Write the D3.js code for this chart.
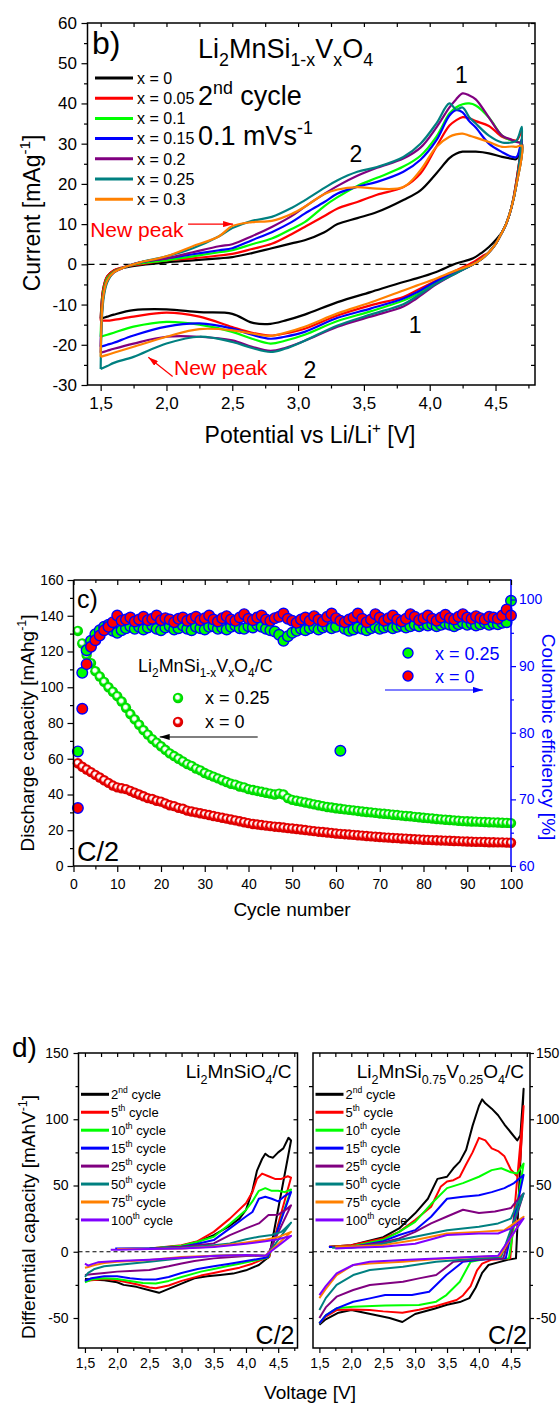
<!DOCTYPE html>
<html><head><meta charset="utf-8">
<script src="https://cdn.jsdelivr.net/npm/d3@7"></script>
<style>
html,body{margin:0;padding:0;background:#fff;}
svg{display:block;}
</style></head><body>
<script>
// ================= data: (b) cyclic voltammetry, 2nd cycle =================
const cvLabels = ["x = 0", "x = 0.05", "x = 0.1", "x = 0.15", "x = 0.2", "x = 0.25", "x = 0.3"];
const cvColors = ["#000000", "#ff0000", "#00ff00", "#0000ff", "#800080", "#008080", "#ff8000"];
const cvTicksX = [1.5, 2.0, 2.5, 3.0, 3.5, 4.0, 4.5];
const cvTicksY = [-30, -20, -10, 0, 10, 20, 30, 40, 50, 60];
// oxidation sweep voltages and currents [mA/g]
const cvAnodicV = [1.5,1.52,1.55,1.6,1.7,1.8,2.0,2.2,2.4,2.5,2.65,2.8,2.95,3.05,3.2,3.3,3.45,3.6,3.8,3.93,4.05,4.15,4.2,4.25,4.3,4.35,4.45,4.55,4.62,4.66,4.7];
const cvAnodicX0   = [-13.5,-6,-3,-1.5,-0.7,-0.2,0.5,1.0,1.5,1.8,2.8,4,5.2,6,8,10,11.5,13,16,18.4,22.6,26.4,27.5,28,28,28,27.6,26.7,26.3,26.2,31];
const cvAnodicX005 = [-14,-6,-3,-1.5,-0.5,0,1,1.5,2.2,2.6,3.8,5.1,7.5,9.3,12,13.9,15.5,17.3,19.2,22.6,29.2,34.5,35.8,36.6,36.3,35.6,34.4,31.7,31,30.8,33];
const cvAnodicX01  = [-18,-7,-3.5,-1.8,-0.5,0.2,1,2,3,3.5,5,6.4,8.8,10.5,14.5,16.7,19.5,21.5,24.3,27,31.7,37.5,39,39.8,40,39.5,36.5,32,30.8,30.5,30];
const cvAnodicX015 = [-20.5,-8,-4,-2,-0.5,0.5,1.5,2.5,3.5,4,6,8,10.5,12.6,15.5,17.6,19.3,20.5,23,26,30.8,37,38.3,37.8,35.6,34,30,27.9,26.8,26.7,31];
const cvAnodicX02  = [-22,-8,-4,-2,-0.5,0.5,1.5,3,4.5,5,7,9.3,12,14.3,17.5,19.5,22,24,26.3,29,34,39,41,42.5,42,41,36.5,32,31,30.4,30];
const cvAnodicX025 = [-26,-9,-4.5,-2,-0.5,0.5,2,4,7,9,10.8,11.8,14,15.9,19,20.9,23,24.2,26.7,30,35,40,38.5,39,36.6,35,32,30.3,30.3,30.8,34.2];
const cvAnodicX03  = [-23,-8,-4,-2,-0.5,0.5,2,4.5,7,9.5,10.5,10.8,12.5,14.3,17.5,18.6,19.2,18.8,19.2,23.4,29.2,31.7,32.3,32.5,32,31.5,30.4,29.2,29.3,29.2,29.5];
// reduction sweep voltages and currents [mA/g]
const cvCathodicV = [4.66,4.62,4.58,4.55,4.5,4.45,4.4,4.33,4.2,4.05,3.9,3.8,3.55,3.3,3.05,2.9,2.79,2.65,2.5,2.25,2.0,1.75,1.6,1.55,1.5];
const cvCathodicX0   = [21,14,10,8,6,4.3,3,1.5,0.2,-1.9,-3.5,-4.4,-6.9,-9.4,-12.5,-14,-14.8,-14.5,-12.3,-11.9,-11.2,-11.4,-12.5,-13,-13.5];
const cvCathodicX005 = [21,14,10,8,5,3,2,0.5,-1.5,-4,-6.5,-8.1,-10.2,-12.7,-16,-17.2,-17.7,-17,-15.6,-13,-12,-13,-13.8,-14,-14];
const cvCathodicX01  = [20,14,10,8,5,3,1.5,0,-2,-4.5,-7.5,-9,-11.7,-14.1,-17.5,-19,-19.7,-18.5,-16.8,-15,-14.3,-15.5,-17,-17.5,-18];
const cvCathodicX015 = [20,14,10,8,5,3,1.5,0,-2,-4.2,-7,-8.5,-11,-13.3,-16.8,-18,-18.5,-17.5,-16,-14.7,-15.5,-17.7,-19.5,-20,-20.5];
const cvCathodicX02  = [20,14,10,8,5,3,1.5,0,-2.2,-5,-8.5,-10.5,-13,-15.5,-19,-20.8,-21.5,-20.5,-18.9,-18,-18,-19.7,-21,-21.5,-22];
const cvCathodicX025 = [20,14,10,8,5,3,1.5,0,-2.2,-4.8,-8,-9.9,-12.5,-15.2,-19,-21,-21.8,-20.8,-19.3,-18,-19.7,-23,-24.5,-25.3,-26];
const cvCathodicX03  = [20,14,10,8,5,3,1.5,0,-1.5,-3.5,-5.3,-6.5,-9.5,-12.2,-15.5,-17,-17.8,-17.2,-16.4,-16.1,-18,-20.5,-22,-22.5,-23];

// ================= data: (c) cycling at C/2 =================
const cycles = d3.range(1, 101);
const capTicksX = [0,10,20,30,40,50,60,70,80,90,100];
const capTicksY = [0,20,40,60,80,100,120,140,160];
const ceTicks = [60,70,80,90,100];
// discharge capacity [mAh/g]
const capX025 = [131.5,124.5,118,113.5,109,106,103,100,97.5,95,
  92,88.5,85,82,79,76,73.5,71,69,67,
  65,63,61.5,60,58.5,57,56,54.5,53.5,52,
  51,50,49,48,47,46,45.5,44.5,44,43,
  42.5,42,41.5,41,40.5,40,40.5,40,38,37,
  36.5,36,35.5,35,34.5,34,33.5,33,32.7,32.3,
  32,31.7,31.4,31.1,30.8,30.5,30.2,30,29.7,29.4,
  29.2,29,28.7,28.5,28.2,28,27.8,27.5,27.3,27,
  26.8,26.6,26.3,26.1,25.9,25.7,25.5,25.3,25.1,25,
  24.9,24.8,24.7,24.6,24.5,24.4,24.3,24.2,24.1,24];
const capX0 = [57.5,55.5,54,52.5,51,49.5,48,46.5,45,44,
  43.5,43,42,41,40,39,38,37.5,36.5,36,
  35,34,33.5,32.5,32,31,30.5,30,29.5,29,
  28.5,28,27.5,27,26.5,26,25.5,25,24.5,24,
  23.5,23.2,22.9,22.6,22.3,22,21.8,21.5,21.2,21,
  20.7,20.4,20.1,19.8,19.5,19.2,19,18.7,18.5,18.2,
  18,17.8,17.6,17.4,17.2,17,16.8,16.6,16.4,16.2,
  16,15.9,15.7,15.6,15.4,15.3,15.1,15,14.9,14.7,
  14.6,14.5,14.4,14.3,14.2,14.1,14,13.9,13.8,13.7,
  13.6,13.5,13.5,13.4,13.3,13.3,13.2,13.2,13.1,13];
// coulombic efficiency [%]
const ceX025 = [77.2,89.0,92.4,93.8,94.8,95.4,95.9,96.2,95.3,95.0,
  95.4,95.7,96.0,95.6,95.9,95.5,95.8,96.1,95.6,95.4,
  95.8,96.0,95.5,95.7,96.1,95.6,95.4,95.9,95.7,95.5,
  95.9,96.0,95.6,95.8,95.5,95.9,96.1,95.7,95.6,96.0,
  95.8,96.2,95.9,95.6,95.4,95.2,94.7,93.8,94.5,95.0,
  95.3,95.6,95.4,95.7,95.9,95.5,95.8,96.0,95.7,95.9,
  77.3,95.6,95.3,95.5,95.8,95.6,95.4,95.7,95.9,95.6,
  95.8,96.0,95.7,95.9,96.1,95.8,96.0,96.2,96.0,96.3,
  96.1,96.3,96.0,96.2,96.4,96.2,96.0,96.3,96.5,96.2,
  96.4,96.1,96.3,96.5,96.2,96.4,96.3,96.5,96.6,99.8];
const ceX0 = [68.7,83.6,90.3,92.9,93.9,94.6,95.4,95.9,96.6,97.6,
  96.8,97.0,97.3,96.7,97.0,97.4,96.9,97.1,97.6,96.9,
  97.2,97.0,96.6,97.1,97.3,96.8,97.1,97.4,96.9,97.2,
  97.6,97.0,96.7,97.2,97.5,97.0,96.8,97.3,97.8,97.1,
  96.9,97.3,97.6,97.0,96.8,97.2,97.4,97.9,97.1,96.8,
  96.5,97.0,97.3,96.8,97.5,97.0,96.7,97.4,97.9,97.2,
  96.8,96.6,97.0,97.3,97.9,97.1,96.6,97.0,97.8,97.3,
  96.8,97.2,97.6,97.0,96.7,97.1,97.8,97.4,96.9,97.2,
  97.6,97.1,96.8,97.3,97.7,97.2,97.0,97.4,97.8,97.3,
  97.1,97.5,97.2,97.0,97.4,97.3,97.1,97.6,98.5,97.6];

// ================= data: (d) differential capacity, [V, mAh/V] =================
const dqTicksX = [1.5, 2.0, 2.5, 3.0, 3.5, 4.0, 4.5];
const dqTicksY = [-50, 0, 50, 100, 150];
const dqCycleLabels = [["2","nd"],["5","th"],["10","th"],["15","th"],["25","th"],["50","th"],["75","th"],["100","th"]];
const dqColors = ["#000000","#ff0000","#00ff00","#0000ff","#800080","#008080","#ff8000","#8000ff"];
// Li2MnSiO4/C
const lmsC2 = [[2.0,2],[2.5,2],[3.0,4.5],[3.25,7.5],[3.5,12.6],[3.75,19.6],[3.9,25],[4.0,31.5],[4.1,46],[4.17,61],[4.25,70],[4.3,74],[4.35,72],[4.42,71],[4.5,75],[4.58,78],[4.66,86],[4.7,84],
  [4.36,-4],[4.3,-6],[4.2,-10],[4.0,-14],[3.8,-16.5],[3.6,-17.5],[3.4,-18.5],[3.2,-20],[3.0,-24],[2.8,-28],[2.65,-31],[2.5,-29],[2.3,-26.5],[2.1,-25],[2.0,-23],[1.8,-21.5],[1.6,-21],[1.5,-20.5]];
const lmsC5 = [[2.0,2],[2.5,2.5],[3.0,5],[3.25,8],[3.5,15],[3.75,25],[4.0,36.6],[4.1,45],[4.17,55],[4.25,59],[4.35,57],[4.45,55],[4.55,55],[4.65,57],[4.7,56],
  [4.36,-4],[4.3,-5],[4.1,-9],[3.9,-12],[3.7,-14],[3.5,-16],[3.3,-18],[3.0,-22],[2.8,-25.5],[2.6,-27.5],[2.5,-27],[2.3,-24.5],[2.0,-21.5],[1.8,-20.5],[1.6,-21.5],[1.5,-22]];
const lmsC10 = [[2.0,2],[2.5,2.5],[3.0,4.5],[3.25,7.5],[3.5,11.3],[3.75,21],[4.0,31.5],[4.1,38],[4.2,46],[4.3,48],[4.4,46],[4.5,46],[4.6,45],[4.7,47],
  [4.35,-4],[4.3,-5],[4.1,-7],[3.9,-9],[3.7,-11],[3.5,-13],[3.3,-15],[3.0,-19],[2.8,-22],[2.6,-24],[2.4,-23.5],[2.2,-22],[2.0,-20.5],[1.8,-20],[1.6,-21],[1.5,-23]];
const lmsC15 = [[1.97,2.5],[2.0,2.5],[2.5,2.5],[3.0,3.8],[3.25,6],[3.5,8.8],[3.75,17.6],[4.0,26.6],[4.1,30],[4.2,40],[4.3,41.5],[4.4,40],[4.5,38],[4.6,42],[4.7,45],
  [4.34,-4],[4.3,-4.5],[4.0,-7],[3.75,-9],[3.5,-11],[3.25,-13],[3.0,-16],[2.8,-19],[2.6,-21],[2.4,-21],[2.2,-20],[2.0,-18.5],[1.8,-18.5],[1.6,-20],[1.5,-22]];
const lmsC25 = [[2.0,2],[2.5,2],[3.0,3.8],[3.5,6.3],[3.75,12.6],[4.0,17.6],[4.2,21.4],[4.35,27.7],[4.5,28],[4.6,31],[4.7,35],
  [4.33,-3],[4.0,-3.2],[3.5,-5],[3.2,-7],[3.0,-8.8],[2.8,-11],[2.5,-13.8],[2.2,-14.5],[2.0,-15],[1.8,-16],[1.6,-17],[1.5,-17.6]];
const lmsC50 = [[2.0,2],[2.5,2],[3.0,3],[3.5,5],[3.75,6.3],[4.0,9.4],[4.2,11.3],[4.4,12.6],[4.55,15],[4.7,22],
  [4.32,-3],[4.0,-2.5],[3.5,-3],[3.0,-5],[2.5,-7.5],[2.0,-10],[1.8,-11],[1.65,-13],[1.55,-16],[1.5,-19]];
const lmsC75 = [[2.0,2],[2.5,2],[3.0,2.5],[3.5,4],[4.0,7],[4.3,9],[4.5,11],[4.7,15],
  [4.3,-3],[4.0,-2.5],[3.5,-3],[3.0,-4],[2.5,-6.3],[2.0,-7.5],[1.8,-8.5],[1.65,-10],[1.55,-11.5],[1.5,-12]];
const lmsC100 = [[1.9,1.5],[2.0,1.5],[2.5,2],[3.0,2.5],[3.5,3.5],[4.0,6],[4.3,8],[4.5,9.5],[4.7,12],
  [4.3,-3],[4.0,-2.5],[3.5,-3.3],[3.0,-4.5],[2.5,-6],[2.0,-7],[1.7,-8],[1.6,-9.5],[1.55,-10.5],[1.5,-9]];
// Li2MnSi0.75V0.25O4/C
const lmsvC2 = [[1.65,3.8],[2.0,5],[2.5,11],[2.75,17.6],[3.0,29],[3.2,40],[3.35,55],[3.5,56.6],[3.6,63],[3.7,68],[3.8,77],[3.9,95],[4.0,110],[4.05,115],[4.1,112],[4.2,108],[4.3,103],[4.4,96],[4.5,90],[4.6,84],[4.65,88],[4.7,123],
  [4.58,-5],[4.45,-6],[4.3,-8],[4.15,-10],[4.05,-16],[3.95,-27],[3.85,-35],[3.7,-38],[3.5,-40],[3.3,-43],[3.0,-47],[2.8,-53],[2.6,-50],[2.3,-47],[2.0,-44],[1.8,-46],[1.6,-51],[1.5,-55]];
const lmsvC5 = [[1.65,3.8],[2.0,5],[2.5,10],[2.75,15],[3.0,24],[3.25,34],[3.4,49],[3.5,53],[3.6,54],[3.7,56.6],[3.8,66],[3.9,75],[4.0,86],[4.05,85],[4.1,84],[4.2,78],[4.3,76],[4.4,72],[4.5,62],[4.6,57],[4.65,70],[4.7,110],
  [4.49,-5],[4.2,-6],[4.05,-9],[3.97,-14],[3.87,-26],[3.75,-33],[3.65,-36.4],[3.33,-41],[3.06,-43.7],[2.8,-46],[2.5,-45],[2.29,-44],[2.0,-43.5],[1.77,-44],[1.6,-49],[1.5,-54]];
const lmsvC10 = [[1.65,3.5],[2.0,4],[2.5,9],[2.75,15],[3.0,22.6],[3.25,36],[3.5,48],[3.75,51.8],[4.0,56.6],[4.2,61.6],[4.35,63],[4.5,60],[4.6,59],[4.7,66.6],
  [4.47,-5],[4.1,-5.5],[3.87,-7.5],[3.7,-22.6],[3.49,-32.7],[3.33,-37.7],[3.06,-40.2],[2.53,-40.5],[2.03,-41.5],[1.77,-42.7],[1.6,-48],[1.5,-54]];
const lmsvC15 = [[1.65,3.5],[2.0,3.5],[2.5,8],[2.75,12.6],[3.0,16.3],[3.25,26.4],[3.5,40],[3.75,41.5],[4.0,42.7],[4.2,45],[4.4,48],[4.55,51.8],[4.7,58],
  [4.42,-5],[4.0,-6],[3.75,-7.5],[3.49,-17.6],[3.22,-30.2],[2.95,-32.7],[2.53,-32.7],[2.29,-35.2],[2.03,-37.7],[1.77,-42.7],[1.6,-48],[1.5,-54]];
const lmsvC25 = [[1.7,3.5],[2.0,3.5],[2.5,7],[2.75,10],[3.0,15],[3.25,21.4],[3.5,26.6],[3.75,31.7],[4.0,29.2],[4.25,30.4],[4.5,33],[4.6,39],[4.7,44],
  [4.38,-5],[3.9,-6],[3.6,-7.5],[3.33,-17.6],[3.06,-20.1],[2.81,-22.6],[2.29,-25.1],[2.03,-28.9],[1.77,-33.9],[1.6,-42],[1.5,-50]];
const lmsvC50 = [[1.7,3],[2.0,3],[2.5,6],[2.75,8.8],[3.0,11.3],[3.5,16.3],[4.0,18.9],[4.3,21.4],[4.5,25],[4.6,36],[4.7,44],
  [4.35,-3.8],[3.33,-7.5],[2.81,-11.3],[2.29,-13.8],[2.03,-17.6],[1.77,-25],[1.6,-35],[1.5,-44]];
const lmsvC75 = [[1.75,3.8],[2.0,4],[2.5,5],[3.0,8.8],[3.5,13.8],[4.0,15],[4.4,16.3],[4.55,21.4],[4.7,26.4],
  [4.33,-3],[3.33,-5.5],[2.81,-7.5],[2.29,-8.8],[2.03,-10],[1.77,-17.6],[1.6,-28],[1.5,-35]];
const lmsvC100 = [[1.75,2.5],[2.0,3],[2.5,3.8],[3.0,6],[3.5,12.6],[4.0,13.8],[4.3,13.8],[4.5,17.6],[4.7,25.1],
  [4.3,-3],[2.81,-6.3],[2.29,-7.5],[2.03,-10],[1.77,-16.3],[1.6,-26],[1.5,-32.7]];

// ================= drawing =================
const FONT = '"Liberation Sans", Arial, Helvetica, sans-serif';
const svg = d3.select("body").append("svg").attr("width", 560).attr("height", 1405)
  .style("font-family", FONT);
const defs = svg.append("defs");
const comma1 = d => d3.format(".1f")(d).replace(".", ",");
const range = (a, b, s) => d3.range(a, b + s / 2, s);

// text with sub-/superscript parts: "plain" or ["txt","sub"|"sup"]
function rich(parent, x, y, parts, size, attrs = {}) {
  const t = parent.append("text").attr("x", x).attr("y", y).attr("font-size", size);
  Object.entries(attrs).forEach(([k, v]) => t.attr(k, v));
  let shift = 0;
  parts.forEach(p => {
    const str = Array.isArray(p) ? p[0] : p;
    const kind = Array.isArray(p) ? p[1] : null;
    const target = kind === "sub" ? size * 0.3 : kind === "sup" ? -size * 0.42 : 0;
    const ts = t.append("tspan").attr("dy", target - shift).text(str);
    if (kind) ts.attr("font-size", size * 0.66);
    shift = target;
  });
  return t;
}

function drawAxis(parent, axisFn, scale, pos, values, len, fmt, fontSize, pad, color) {
  const vertical = axisFn === d3.axisLeft || axisFn === d3.axisRight;
  const a = axisFn(scale).tickValues(values).tickSize(len).tickPadding(pad || 3)
    .tickFormat(fmt || (() => ""));
  const g = parent.append("g")
    .attr("transform", vertical ? `translate(${pos},0)` : `translate(0,${pos})`)
    .call(a);
  g.select(".domain").remove();
  g.attr("font-family", FONT).attr("font-size", fontSize || 14);
  g.selectAll("line").attr("stroke", color || "#000").attr("stroke-width", 1.2);
  g.selectAll("text").attr("fill", color || "#000");
  return g;
}

function arrowMarker(id, color) {
  defs.append("marker").attr("id", id).attr("viewBox", "0 0 10 6")
    .attr("refX", 10).attr("refY", 3).attr("markerWidth", 10).attr("markerHeight", 6)
    .attr("markerUnits", "userSpaceOnUse").attr("orient", "auto")
    .append("path").attr("d", "M0,0L10,3L0,6z").attr("fill", color);
}
arrowMarker("arRed", "#ff0000");
arrowMarker("arBlack", "#000");
arrowMarker("arBlue", "#0000ff");

function ballGradient(id, color, edge) {
  const g = defs.append("radialGradient").attr("id", id)
    .attr("cx", "50%").attr("cy", "50%").attr("r", "55%").attr("fx", "42%").attr("fy", "38%");
  g.append("stop").attr("offset", "0%").attr("stop-color", "#ffffff");
  g.append("stop").attr("offset", "28%").attr("stop-color", "#ffffff").attr("stop-opacity", 0.9);
  g.append("stop").attr("offset", "55%").attr("stop-color", color);
  g.append("stop").attr("offset", "100%").attr("stop-color", edge);
}
ballGradient("ballGreen", "#00f000", "#00c000");
ballGradient("ballRed", "#f00000", "#c80000");

// ---------------- panel (b) ----------------
{
  const x = d3.scaleLinear().domain([1.4, 4.8]).range([87.5, 535]);
  const y = d3.scaleLinear().domain([-30, 60]).range([385, 23]);
  const g = svg.append("g");
  const [x0, x1] = x.range(), [y0, y1] = y.range();

  // zero reference
  g.append("line").attr("x1", x0).attr("x2", x1).attr("y1", y(0)).attr("y2", y(0))
    .attr("stroke", "#000").attr("stroke-width", 1.3).attr("stroke-dasharray", "7,5");

  const anodic = [cvAnodicX0, cvAnodicX005, cvAnodicX01, cvAnodicX015, cvAnodicX02, cvAnodicX025, cvAnodicX03];
  const cathodic = [cvCathodicX0, cvCathodicX005, cvCathodicX01, cvCathodicX015, cvCathodicX02, cvCathodicX025, cvCathodicX03];
  const line = d3.line().x(d => x(d[0])).y(d => y(d[1])).curve(d3.curveCatmullRom.alpha(0.5));
  anodic.forEach((a, i) => {
    const pts = cvAnodicV.map((v, k) => [v, a[k]]).concat(cvCathodicV.map((v, k) => [v, cathodic[i][k]]));
    g.append("path").attr("d", line(pts)).attr("fill", "none")
      .attr("stroke", cvColors[i]).attr("stroke-width", 2.2).attr("stroke-linejoin", "round");
  });

  // frame + axes
  g.append("rect").attr("x", x0).attr("y", y1).attr("width", x1 - x0).attr("height", y0 - y1)
    .attr("fill", "none").attr("stroke", "#000").attr("stroke-width", 1.5);
  drawAxis(g, d3.axisLeft, y, x0, cvTicksY, 6, d => d, 17, 4.5);
  drawAxis(g, d3.axisLeft, y, x0, range(-25, 55, 10), 3.5);
  drawAxis(g, d3.axisBottom, x, y0, cvTicksX, 6, comma1, 17, 6);
  drawAxis(g, d3.axisBottom, x, y0, range(1.75, 4.75, 0.5), 3.5);
  drawAxis(g, d3.axisBottom, x, y1, range(1.5, 4.75, 0.25), 4);
  drawAxis(g, d3.axisLeft, y, x1, range(-25, 60, 5), 4);

  rich(g, 310, 443, ["Potential vs Li/Li", ["+", "sup"], " [V]"], 23, { "text-anchor": "middle" });
  const yl = g.append("g").attr("transform", "translate(40,213) rotate(-90)");
  rich(yl, 0, 0, ["Current [mAg", ["-1", "sup"], "]"], 23, { "text-anchor": "middle" });

  g.append("text").attr("x", 92).attr("y", 54).attr("font-size", 32).text("b)");
  rich(g, 198, 58, ["Li", ["2", "sub"], "MnSi", ["1-x", "sub"], "V", ["x", "sub"], "O", ["4", "sub"]], 27);
  rich(g, 198, 105, ["2", ["nd", "sup"], " cycle"], 27);
  rich(g, 198, 145, ["0.1 mVs", ["-1", "sup"]], 27);

  // legend
  cvLabels.forEach((lab, i) => {
    const cy = 78 + 20.2 * i;
    g.append("line").attr("x1", 95).attr("x2", 133).attr("y1", cy).attr("y2", cy)
      .attr("stroke", cvColors[i]).attr("stroke-width", 3);
    g.append("text").attr("x", 137).attr("y", cy + 5.8).attr("font-size", 16).text(lab);
  });

  // peak annotations
  g.append("text").attr("x", x(4.24)).attr("y", y(45.1)).attr("font-size", 23).attr("text-anchor", "middle").text("1");
  g.append("text").attr("x", x(3.44)).attr("y", y(25.4)).attr("font-size", 23).attr("text-anchor", "middle").text("2");
  g.append("text").attr("x", x(3.89)).attr("y", y(-17.1)).attr("font-size", 23).attr("text-anchor", "middle").text("1");
  g.append("text").attr("x", x(3.09)).attr("y", y(-28.3)).attr("font-size", 23).attr("text-anchor", "middle").text("2");

  g.append("text").attr("x", x(1.42)).attr("y", y(6.7)).attr("font-size", 21).attr("fill", "#ff0000").text("New peak");
  g.append("line").attr("x1", x(2.164)).attr("y1", y(10)).attr("x2", x(2.506)).attr("y2", y(10))
    .attr("stroke", "#ff0000").attr("stroke-width", 1.2).attr("marker-end", "url(#arRed)");
  g.append("text").attr("x", x(2.057)).attr("y", y(-27.5)).attr("font-size", 21).attr("fill", "#ff0000").text("New peak");
  g.append("line").attr("x1", x(2.047)).attr("y1", y(-27.9)).attr("x2", x(1.862)).attr("y2", y(-23.1))
    .attr("stroke", "#ff0000").attr("stroke-width", 1.2).attr("marker-end", "url(#arRed)");
}

// ---------------- panel (c) ----------------
{
  const x = d3.scaleLinear().domain([0, 100]).range([73.5, 511]);
  const y = d3.scaleLinear().domain([0, 160]).range([866, 580]);
  const yCE = d3.scaleLinear().domain([60, 100]).range([866, 599.5]);
  const g = svg.append("g");
  const [x0, x1] = x.range(), [y0, y1] = y.range();

  // discharge capacity (spheres)
  [[capX025, "ballGreen"], [capX0, "ballRed"]].forEach(([vals, grad]) => {
    g.append("g").selectAll("circle").data(vals).join("circle")
      .attr("cx", (d, i) => x(cycles[i])).attr("cy", d => y(d)).attr("r", 5.2)
      .attr("fill", `url(#${grad})`);
  });
  // coulombic efficiency
  [[ceX025, "#00ff00"], [ceX0, "#ff0000"]].forEach(([vals, col]) => {
    g.append("g").selectAll("circle").data(vals).join("circle")
      .attr("cx", (d, i) => x(cycles[i])).attr("cy", d => yCE(d)).attr("r", 5.3)
      .attr("fill", col).attr("stroke", "#0000ff").attr("stroke-width", 1.4);
  });

  // frame
  g.append("line").attr("x1", x0).attr("x2", x1).attr("y1", y1).attr("y2", y1).attr("stroke", "#000").attr("stroke-width", 1.5);
  g.append("line").attr("x1", x0).attr("x2", x1).attr("y1", y0).attr("y2", y0).attr("stroke", "#000").attr("stroke-width", 1.5);
  g.append("line").attr("x1", x0).attr("x2", x0).attr("y1", y0).attr("y2", y1).attr("stroke", "#000").attr("stroke-width", 1.5);
  g.append("line").attr("x1", x1).attr("x2", x1).attr("y1", y0 + 0.75).attr("y2", y1 - 0.75).attr("stroke", "#0000ff").attr("stroke-width", 1.5);

  drawAxis(g, d3.axisLeft, y, x0, capTicksY, 6, d => d, 14, 4);
  drawAxis(g, d3.axisLeft, y, x0, range(10, 150, 20), 3.5);
  drawAxis(g, d3.axisBottom, x, y0, capTicksX, 6, d => d, 14, 7);
  drawAxis(g, d3.axisBottom, x, y0, range(5, 95, 10), 3.5);
  drawAxis(g, d3.axisBottom, x, y1, capTicksX, 5);
  drawAxis(g, d3.axisBottom, x, y1, range(5, 95, 10), 3);
  drawAxis(g, d3.axisRight, yCE, x1, ceTicks, 5, d => d, 14, 3, "#0000ff");
  drawAxis(g, d3.axisRight, yCE, x1, [65, 75, 85, 95], 3, null, 14, 3, "#0000ff");

  g.append("text").attr("x", 292).attr("y", 916).attr("font-size", 19).attr("text-anchor", "middle").text("Cycle number");
  const yl = g.append("g").attr("transform", "translate(34,733) rotate(-90)");
  rich(yl, 0, 0, ["Discharge capacity [mAhg", ["-1", "sup"], "]"], 19, { "text-anchor": "middle" });
  const yr = g.append("g").attr("transform", "translate(542,737) rotate(90)");
  rich(yr, 0, 0, ["Coulombic efficiency [%]"], 19, { "text-anchor": "middle", fill: "#0000ff" });

  g.append("text").attr("x", 77).attr("y", 608).attr("font-size", 25).text("c)");
  g.append("text").attr("x", 77).attr("y", 861).attr("font-size", 27).text("C/2");

  // legends
  rich(g, 138, 672, ["Li", ["2", "sub"], "MnSi", ["1-x", "sub"], "V", ["x", "sub"], "O", ["4", "sub"], "/C"], 18);
  g.append("circle").attr("cx", 178).attr("cy", 698).attr("r", 5.2).attr("fill", "url(#ballGreen)");
  g.append("text").attr("x", 205).attr("y", 704).attr("font-size", 18).text("x = 0.25");
  g.append("circle").attr("cx", 178).attr("cy", 722).attr("r", 5.2).attr("fill", "url(#ballRed)");
  g.append("text").attr("x", 205).attr("y", 728).attr("font-size", 18).text("x = 0");
  g.append("line").attr("x1", x(42.1)).attr("x2", x(19.7)).attr("y1", y(72.2)).attr("y2", y(72.2))
    .attr("stroke", "#000").attr("stroke-width", 1.1).attr("marker-end", "url(#arBlack)");

  g.append("circle").attr("cx", 408).attr("cy", 653).attr("r", 5).attr("fill", "#00ff00").attr("stroke", "#0000ff").attr("stroke-width", 1.4);
  g.append("text").attr("x", 435).attr("y", 660).attr("font-size", 18).attr("fill", "#0000ff").text("x = 0.25");
  g.append("circle").attr("cx", 408).attr("cy", 676).attr("r", 5).attr("fill", "#ff0000").attr("stroke", "#0000ff").attr("stroke-width", 1.4);
  g.append("text").attr("x", 435).attr("y", 683).attr("font-size", 18).attr("fill", "#0000ff").text("x = 0");
  g.append("line").attr("x1", x(71.2)).attr("x2", x(93.6)).attr("y1", y(98.5)).attr("y2", y(98.5))
    .attr("stroke", "#0000ff").attr("stroke-width", 1.1).attr("marker-end", "url(#arBlue)");
}

// ---------------- panel (d) ----------------
{
  const y = d3.scaleLinear().domain([-50, 150]).range([1318, 1053]);
  const yBottom = 1348;
  const panels = [
    { x: d3.scaleLinear().domain([1.4, 4.8]).range([78.5, 297.5]), curves: [lmsC2, lmsC5, lmsC10, lmsC15, lmsC25, lmsC50, lmsC75, lmsC100],
      title: ["Li", ["2", "sub"], "MnSiO", ["4", "sub"], "/C"], side: "left" },
    { x: d3.scaleLinear().domain([1.4, 4.8]).range([313, 530]), curves: [lmsvC2, lmsvC5, lmsvC10, lmsvC15, lmsvC25, lmsvC50, lmsvC75, lmsvC100],
      title: ["Li", ["2", "sub"], "MnSi", ["0.75", "sub"], "V", ["0.25", "sub"], "O", ["4", "sub"], "/C"], side: "right" }
  ];
  panels.forEach(p => {
    const g = svg.append("g");
    const [x0, x1] = p.x.range();
    g.append("line").attr("x1", x0).attr("x2", x1).attr("y1", y(0)).attr("y2", y(0))
      .attr("stroke", "#000").attr("stroke-width", 1).attr("stroke-dasharray", "4,3");
    const line = d3.line().x(d => p.x(d[0])).y(d => y(d[1]));
    p.curves.forEach((c, i) => {
      g.append("path").attr("d", line(c)).attr("fill", "none").attr("stroke", dqColors[i])
        .attr("stroke-width", 2).attr("stroke-linejoin", "round");
    });
    g.append("rect").attr("x", x0).attr("y", 1053).attr("width", x1 - x0).attr("height", yBottom - 1053)
      .attr("fill", "none").attr("stroke", "#000").attr("stroke-width", 1.5);

    drawAxis(g, d3.axisBottom, p.x, yBottom, dqTicksX, 5, comma1, 14, 5);
    drawAxis(g, d3.axisBottom, p.x, yBottom, range(1.75, 4.75, 0.5), 3);
    drawAxis(g, d3.axisBottom, p.x, 1053, range(1.5, 4.75, 0.25), 4);
    if (p.side === "left") {
      drawAxis(g, d3.axisLeft, y, x0, dqTicksY, 5, d => d, 14, 5);
      drawAxis(g, d3.axisLeft, y, x0, [-25, 25, 75, 125], 3);
      drawAxis(g, d3.axisLeft, y, x1, [-50, -25, 0, 25, 50, 75, 100, 125], 4);
    } else {
      drawAxis(g, d3.axisRight, y, x1, dqTicksY, 4, d => d, 14, 2);
      drawAxis(g, d3.axisRight, y, x1, [-25, 25, 75, 125], 3);
      drawAxis(g, d3.axisRight, y, x0, [-50, -25, 0, 25, 50, 75, 100, 125], -4);
    }
    rich(g, x1 - 6, 1078, p.title, 19, { "text-anchor": "end" });
    g.append("text").attr("x", x1 - 3).attr("y", 1344).attr("font-size", 25).attr("text-anchor", "end").text("C/2");

    dqCycleLabels.forEach((lab, i) => {
      const cy = 1094.3 + 17.95 * i;
      g.append("line").attr("x1", x0 + 2.5).attr("x2", x0 + 30.5).attr("y1", cy).attr("y2", cy)
        .attr("stroke", dqColors[i]).attr("stroke-width", 3);
      rich(g, x0 + 32.5, cy + 4.6, [lab[0], [lab[1], "sup"], " cycle"], 13);
    });
  });

  svg.append("text").attr("x", 310).attr("y", 1399).attr("font-size", 19).attr("text-anchor", "middle")
    .attr("font-family", FONT).text("Voltage [V]");
  const yl = svg.append("g").attr("transform", "translate(35,1217) rotate(-90)");
  rich(yl, 0, 0, ["Differential capacity [mAhV", ["-1", "sup"], "]"], 19, { "text-anchor": "middle" });
  svg.append("text").attr("x", 12).attr("y", 1057).attr("font-size", 28).text("d)");
}
</script>
</body></html>
